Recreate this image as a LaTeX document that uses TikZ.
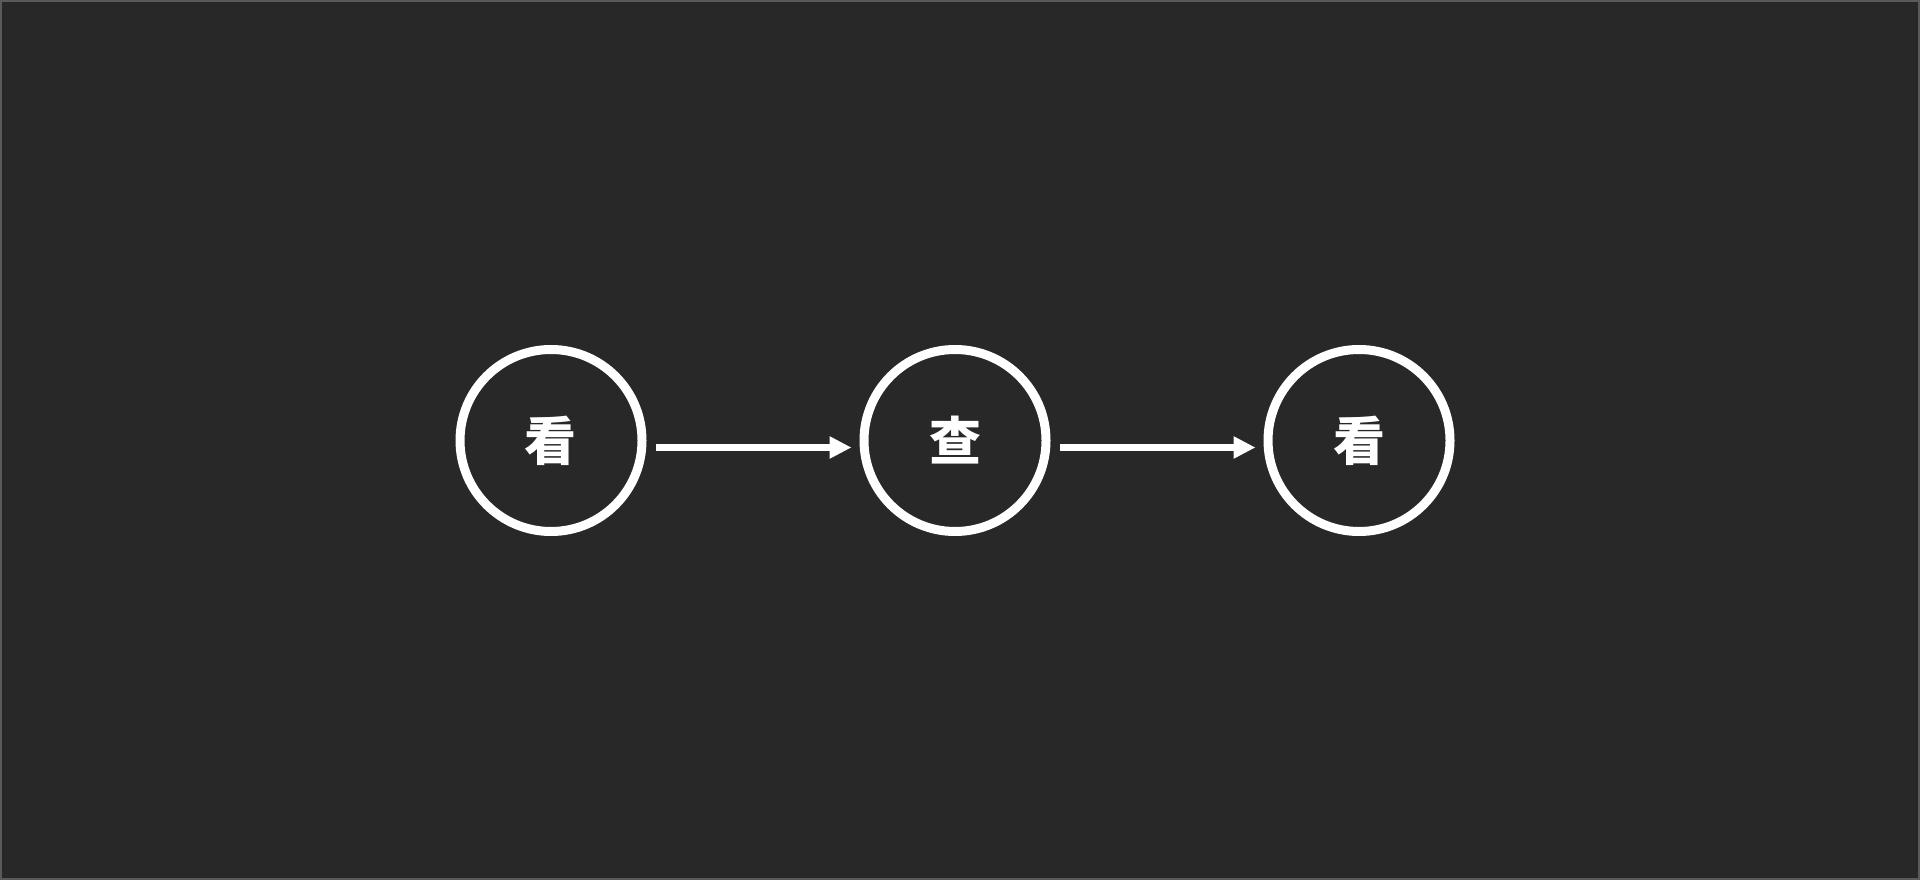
\documentclass[tikz,border=0pt]{standalone}
\usepackage{fontspec}
\newfontfamily\cjk{Noto Sans CJK SC}
\usetikzlibrary{arrows.meta}
\definecolor{cbg}{RGB}{40,40,40}
\definecolor{cframe}{RGB}{90,90,90}

\begin{document}
\begin{tikzpicture}[
    >={Triangle[length=2.2mm,width=2.1mm]},
    step node/.style={draw=white, circle, line width=0.9mm, minimum size=18.2mm,
                      inner sep=0pt, text=white, font=\cjk\bfseries\fontsize{14.8pt}{16pt}\selectfont},
    flow/.style={->, draw=white, line width=0.6mm},
  ]
  % background
  \fill[cbg] (0,0) rectangle (19.2,8.8);
  \draw[cframe, line width=0.15mm] (0.01,0.01) rectangle (19.19,8.79);
  \useasboundingbox (0,0) rectangle (19.2,8.8);
  % steps
  \node[step node] (look1) at (5.51,4.395) {\raisebox{0.15mm}{看}};
  \node[step node] (check) at (9.55,4.395) {\raisebox{0.15mm}{查}};
  \node[step node] (look2) at (13.59,4.395) {\raisebox{0.15mm}{看}};
  % arrows
  \draw[flow] ([xshift=0.9mm,yshift=-0.7mm]look1.east) -- ([xshift=-0.8mm,yshift=-0.7mm]check.west);
  \draw[flow] ([xshift=0.9mm,yshift=-0.7mm]check.east) -- ([xshift=-0.8mm,yshift=-0.7mm]look2.west);
\end{tikzpicture}
\end{document}
